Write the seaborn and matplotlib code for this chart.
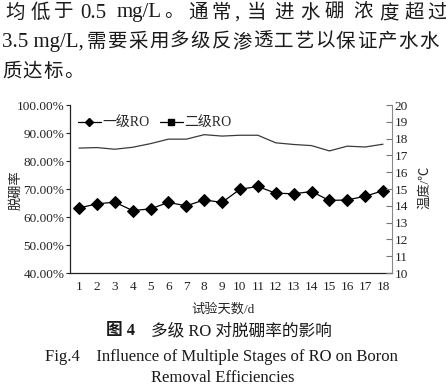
import numpy as np
import pandas as pd
import seaborn as sns
from matplotlib import pyplot as plt
from matplotlib.lines import Line2D

# data
days = list(range(1, 19))
ro_stage1 = [63.2, 64.7, 65.3, 62.3, 62.9, 65.2, 64.0, 66.1, 65.2,
             69.9, 70.9, 68.5, 68.3, 69.1, 65.9, 66.1, 67.4, 69.4]
ro_stage2 = [84.6, 84.8, 84.2, 84.9, 86.2, 87.8, 87.8, 89.4, 88.9,
             89.2, 89.2, 86.5, 85.9, 85.5, 83.6, 85.3, 85.0, 86.0]
left_ticks = [40, 50, 60, 70, 80, 90, 100]
right_ticks = list(range(10, 21))

df = pd.DataFrame({"day": days, "stage1": ro_stage1, "stage2": ro_stage2})

sns.set_theme(style="white")
plt.rcParams["font.family"] = ["Liberation Serif", "Noto Sans CJK SC"]
plt.rcParams["axes.unicode_minus"] = False

W, H = 446, 388
fig = plt.figure(figsize=(W / 100, H / 100), dpi=100)
fig.patch.set_facecolor("white")


def px(x, y):
    return x / W, 1 - y / H


# axes box in pixels: left 70, right 392, top 105, bottom 273
ax = fig.add_axes([70 / W, 1 - 273 / H, 322 / W, 168 / H])

sns.lineplot(data=df, x="day", y="stage2", color="#3a3a3a", linewidth=0.9, ax=ax)
sns.lineplot(data=df, x="day", y="stage1", color="black", linewidth=0.9,
             marker="D", markersize=6, markeredgecolor="black", ax=ax)

ax.set_xlim(0.5, 18.5)
ax.set_ylim(40, 100)
ax.set_yticks(left_ticks)
ax.set_yticklabels([f"{v:.2f}%" for v in left_ticks], fontsize=9.5)
ax.set_xticks(days)
ax.set_xticklabels([str(d) for d in days], fontsize=9.5)
ax.set_xticks(np.arange(0.5, 19, 1), minor=True)
ax.tick_params(axis="x", which="major", length=0, pad=6, colors="#222222")
ax.tick_params(axis="x", which="minor", direction="in", length=4, width=0.8, color="#222222")
ax.tick_params(axis="y", which="major", direction="out", length=3, width=0.8,
               color="#222222", pad=1, labelcolor="#222222")
ax.set_xlabel("试验天数/d", fontsize=9.5)
ax.xaxis.set_label_coords(0.475, -0.178)
ax.set_ylabel("脱硼率", fontsize=9.5)
ax.yaxis.set_label_coords(-0.148, 0.494)
for s in ["left", "bottom"]:
    ax.spines[s].set_color("#222222")
    ax.spines[s].set_linewidth(0.9)
ax.spines["top"].set_visible(False)
ax.spines["right"].set_visible(False)

ax2 = ax.twinx()
ax2.set_ylim(10, 20)
ax2.set_yticks(right_ticks)
ax2.set_yticklabels([str(v) for v in right_ticks], fontsize=9.5)
ax2.tick_params(axis="y", direction="in", length=4, width=0.8, color="#777777",
                pad=2, labelcolor="#222222")
ax2.set_ylabel("温度/℃", fontsize=9.5)
ax2.yaxis.set_label_coords(1.084, 0.512)
ax2.spines["right"].set_color("#888888")
ax2.spines["right"].set_linewidth(0.8)
for s in ["top", "left", "bottom"]:
    ax2.spines[s].set_visible(False)

handles = [
    Line2D([], [], color="black", linewidth=0.9, marker="D", markersize=4.5),
    Line2D([], [], color="black", linewidth=0.9, marker="s", markersize=4.5),
]
ax.legend(handles, ["一级RO", "二级RO"], loc="center left", ncol=2, frameon=False,
          bbox_to_anchor=(0.0, 0.893), fontsize=10, handlelength=1.6,
          handletextpad=0.1, columnspacing=0.8, borderaxespad=0.2)

# body text above the chart (set glyph by glyph, like the justified page)
ink = "#1a1a1a"
cjk_size = 14
latin_size = 15
line1 = [("均", 5), ("低", 31), ("于", 54), ("0.5", 80), ("mg/L", 117), ("。", 164),
         ("通", 188), ("常", 211), (",", 234), ("当", 247), ("进", 274),
         ("水", 300), ("硼", 325), ("浓", 353), ("度", 379), ("超", 404), ("过", 427)]
for t, x in line1:
    size = latin_size if t[0].isascii() else cjk_size
    fig.text(*px(x, 13), t, fontsize=size, va="center", ha="left", color=ink)

fig.text(*px(2, 42), "3.5 mg/L,", fontsize=latin_size, va="center", ha="left", color=ink)
for i, ch in enumerate("需要采用多级反渗透工艺以保证产水水"):
    fig.text(*px(87 + i * 20.75, 42), ch, fontsize=cjk_size, va="center", ha="left",
             color=ink)
for i, ch in enumerate("质达标。"):
    fig.text(*px(2 + i * 20.7, 72), ch, fontsize=cjk_size, va="center", ha="left",
             color=ink)

# caption
fig.text(*px(106, 331), "图 4", fontsize=12, fontweight="bold", va="center", ha="left",
         color=ink)
fig.text(*px(151, 331), "多级 RO 对脱硼率的影响", fontsize=12, va="center", ha="left",
         color=ink)
fig.text(*px(221, 357), "Fig.4    Influence of Multiple Stages of RO on Boron",
         fontsize=12, va="center", ha="center", color=ink)
fig.text(*px(223, 378), "Removal Efficiencies", fontsize=12, va="center", ha="center",
         color=ink)

fig.savefig("out.png", dpi=100, facecolor="white")
